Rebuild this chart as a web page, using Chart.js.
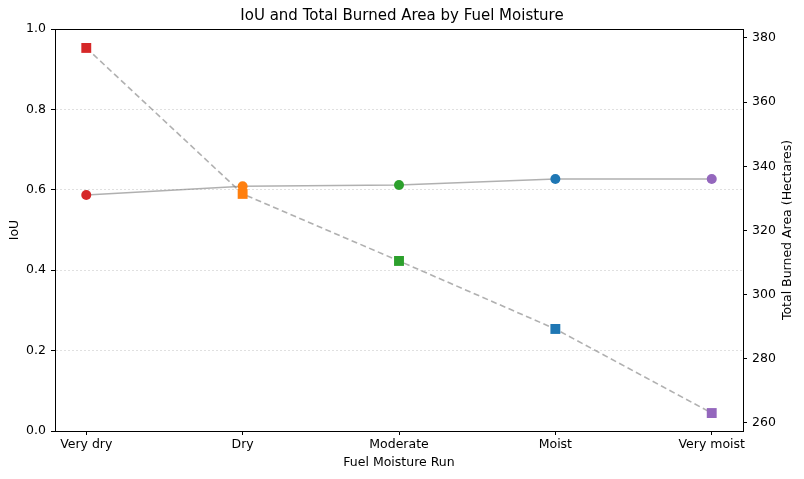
<!DOCTYPE html>
<html>
<head>
<meta charset="utf-8">
<script src="https://cdn.jsdelivr.net/npm/chart.js@4"></script>
<style>
html,body{margin:0;padding:0;background:#fff;}
#wrap{width:804px;height:479px;}
</style>
</head>
<body>
<div id="wrap"><canvas id="c" width="804" height="479"></canvas></div>
<script>
const categories = ["Very dry", "Dry", "Moderate", "Moist", "Very moist"];
const iouValues = [0.587, 0.609, 0.612, 0.627, 0.627];
const burnedArea = [376.9, 331.4, 310.5, 289.3, 263.1];
const pointColors = ["#d62728", "#ff7f0e", "#2ca02c", "#1f77b4", "#9467bd"];
const leftTicks = [0, 0.2, 0.4, 0.6, 0.8, 1.0];
const rightTicks = [260, 280, 300, 320, 340, 360, 380];
const rightAxisTitle = 'Total Burned Area (Hectares)';

const FONT = "'DejaVu Sans', sans-serif";
const TICK_SIZE = 12.5;
const lineColor = "rgba(128,128,128,0.62)";

const boxPlugin = {
  id: 'box',
  afterDraw(chart) {
    const {ctx, chartArea: a} = chart;
    ctx.save();
    ctx.strokeStyle = '#000';
    ctx.lineWidth = 1;
    ctx.beginPath();
    ctx.moveTo(a.left, a.top + 0.5);
    ctx.lineTo(a.right, a.top + 0.5);
    ctx.stroke();
    // right axis title, reading bottom to top
    ctx.fillStyle = '#000';
    ctx.font = TICK_SIZE + "px " + FONT;
    ctx.textAlign = 'center';
    ctx.textBaseline = 'middle';
    ctx.translate(788, (a.top + a.bottom) / 2);
    ctx.rotate(-Math.PI / 2);
    ctx.fillText(rightAxisTitle, 0, 0);
    ctx.restore();
  }
};

new Chart(document.getElementById('c'), {
  type: 'line',
  data: {
    datasets: [
      {
        label: 'Total Burned Area',
        data: categories.map((c, i) => ({x: i, y: burnedArea[i]})),
        yAxisID: 'y1',
        borderColor: lineColor,
        borderWidth: 1.6,
        borderDash: [6, 3.5],
        pointStyle: 'rect',
        pointRadius: 7,
        pointHoverRadius: 7,
        pointBackgroundColor: pointColors,
        pointBorderColor: pointColors,
        pointBorderWidth: 0,
        order: 2
      },
      {
        label: 'IoU',
        data: categories.map((c, i) => ({x: i, y: iouValues[i]})),
        yAxisID: 'y',
        borderColor: lineColor,
        borderWidth: 1.6,
        pointStyle: 'circle',
        pointRadius: 5,
        pointHoverRadius: 5,
        pointBackgroundColor: pointColors,
        pointBorderColor: pointColors,
        pointBorderWidth: 0,
        order: 1
      }
    ]
  },
  options: {
    responsive: false,
    animation: false,
    devicePixelRatio: 1,
    layout: {padding: 0},
    plugins: {
      legend: {display: false},
      tooltip: {enabled: false},
      title: {
        display: true,
        text: 'IoU and Total Burned Area by Fuel Moisture',
        color: '#000',
        font: {family: FONT, size: 15, weight: 'normal', lineHeight: 1.2},
        padding: {top: 7, bottom: 4}
      }
    },
    scales: {
      x: {
        type: 'linear',
        min: -0.2,
        max: 4.2,
        afterBuildTicks(s) { s.ticks = categories.map((c, i) => ({value: i})); },
        afterFit(s) { s.height = 48; },
        ticks: {
          color: '#000',
          font: {family: FONT, size: TICK_SIZE},
          padding: 2,
          maxRotation: 0,
          autoSkip: false,
          callback: (v) => categories[v] ?? ''
        },
        grid: {drawOnChartArea: false, tickLength: 4, tickColor: '#000'},
        border: {display: true, color: '#000', width: 1},
        title: {
          display: true, text: 'Fuel Moisture Run', color: '#000',
          font: {family: FONT, size: TICK_SIZE}, padding: {top: 0, bottom: 8.5}
        }
      },
      y: {
        type: 'linear',
        position: 'left',
        min: 0,
        max: 1,
        afterBuildTicks(s) { s.ticks = leftTicks.map(v => ({value: v})); },
        afterFit(s) { s.width = 55; },
        ticks: {
          color: '#000',
          font: {family: FONT, size: TICK_SIZE},
          padding: 5,
          callback: (v) => Number(v).toFixed(1)
        },
        grid: {
          color: (ctx) => (ctx.tick && (ctx.tick.value === 0 || ctx.tick.value === 1)) ? 'rgba(0,0,0,0)' : '#d9d9d9',
          lineWidth: 0.8,
          tickLength: 4,
          tickColor: '#000',
          tickWidth: 1
        },
        border: {display: true, color: '#000', width: 1, dash: [2, 2]},
        title: {
          display: true, text: 'IoU', color: '#000',
          font: {family: FONT, size: TICK_SIZE}, padding: {top: 7.5, bottom: 0}
        }
      },
      y1: {
        type: 'linear',
        position: 'right',
        min: 257.5,
        max: 382.8,
        afterBuildTicks(s) { s.ticks = rightTicks.map(v => ({value: v})); },
        afterFit(s) { s.width = 61; },
        ticks: {
          color: '#000',
          font: {family: FONT, size: TICK_SIZE},
          padding: 5
        },
        grid: {drawOnChartArea: false, tickLength: 4, tickColor: '#000'},
        border: {display: true, color: '#000', width: 1},
        title: {display: false}
      }
    }
  },
  plugins: [boxPlugin]
});
</script>
</body>
</html>
